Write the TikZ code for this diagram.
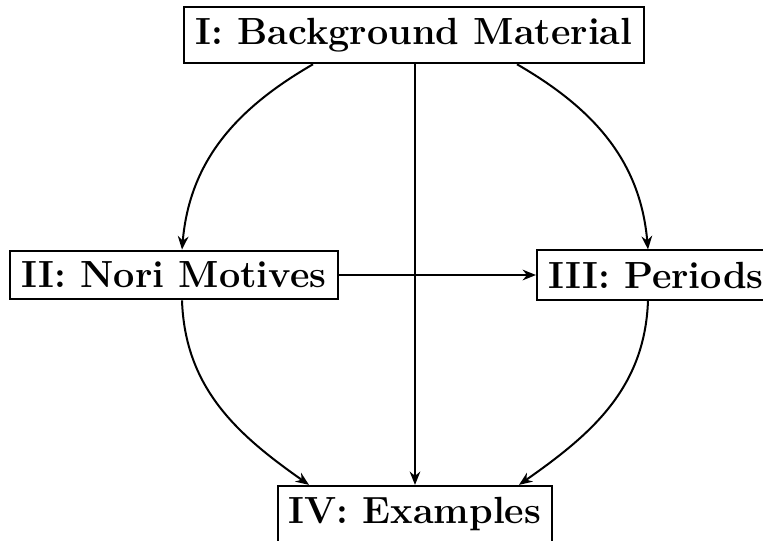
\documentclass[tikz,border=0pt]{standalone}
\usetikzlibrary{calc,arrows.meta}
\begin{document}
\begin{tikzpicture}[x=0.3pt,y=-0.3pt,
  box/.style={draw,semithick,inner sep=3.4pt,font=\fontsize{11.35}{13}\selectfont\bfseries},
  conn/.style={-{Stealth[length=4pt,width=3.2pt,inset=1.3pt]},semithick}]
\useasboundingbox (0,0) rectangle (763,540);
\node[box] (I) at (414,35) {I: Background Material};
\node[box] (II) at (174,275) {II: Nori Motives};
\node[box] (III) at (656,275) {III: Periods};
\node[box] (IV) at (415,514) {IV: Examples};
\draw[conn] ($(I.south)+(-101,0)$) to[out=-150,in=85] ($(II.north)+(8,0)$);
\draw[conn] ($(I.south)+(103,0)$) to[out=-30,in=95] ($(III.north)+(-8,0)$);
\draw[conn] (I.south -| IV.north) -- (IV.north);
\draw[conn] (II.east) -- (III.west);
\draw[conn] ($(II.south)+(8,0)$) to[out=-88,in=145] ($(IV.north)+(-106,0)$);
\draw[conn] ($(III.south)+(-8,0)$) to[out=-92,in=35] ($(IV.north)+(104,0)$);
\end{tikzpicture}
\end{document}
